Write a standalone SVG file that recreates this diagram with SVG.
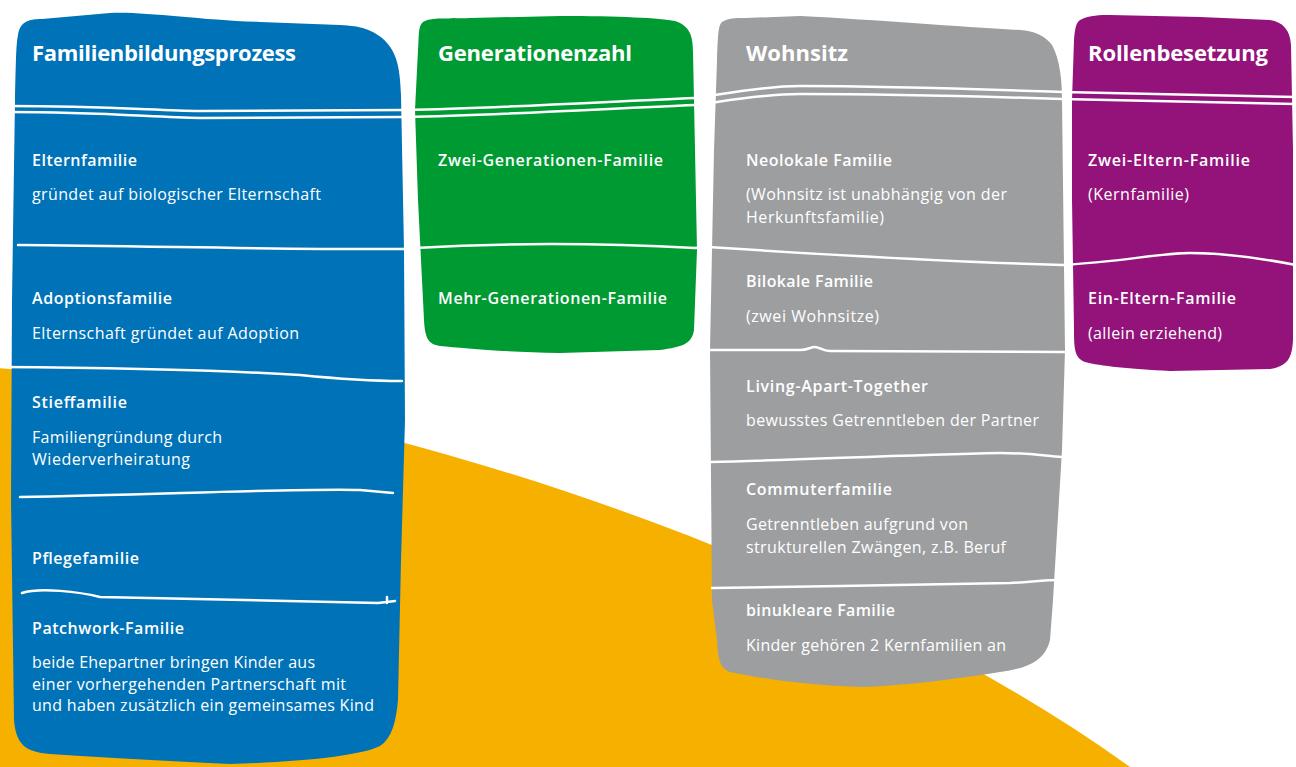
<svg xmlns="http://www.w3.org/2000/svg" width="1296" height="767" viewBox="0 0 1296 767">
<style>
.t{font-family:"Open Sans","Noto Sans","Liberation Sans",sans-serif;fill:#fff}
.h{font-size:22px;font-weight:700}
.b{font-size:16px;font-weight:600}
.r{font-size:16px;font-weight:400}
.ln{fill:none;stroke:#fff;stroke-width:2.5;stroke-linecap:round;stroke-linejoin:round}
</style>
<rect width="1296" height="767" fill="#fff"/>
<path id="yellow" d="M0,368 C350,400 820,545 1130,767 L0,767 Z" fill="#F6B000"/>

<g id="col-familienbildungsprozess">
<path d="M18,35 C20,22 28,19 42,19 L110,13 C140,11 200,20 260,22 L340,25 C362,26 372,30 382,38 C396,50 400,65 401,95 L404,250 L405,420 L401,560 L398,700 C396,722 392,738 380,746 C360,756 300,762 230,764 C160,761 100,757 50,754 C26,752 16,745 14,720 L11,500 L12,300 L15,100 C16,60 16,45 18,35 Z" fill="#0072B7"/>
<path class="ln" d="M8,106 C100,106 150,110 200,111 L404,110"/>
<path class="ln" d="M8,112 C100,112 150,117 200,118 L404,117"/>
<path class="ln" d="M18,245 C150,246 300,250 404,249"/>
<path class="ln" d="M0,367 C150,368 250,372 300,375 C350,380 380,381 402,381"/>
<path class="ln" d="M20,497 C150,495 300,488 360,490 L393,493"/>
<path class="ln" d="M22,593 C40,587 80,592 100,597 C200,600 300,602 378,603 L395,601 M387,603 L387,597"/>
<text class="t h" x="32" y="61" textLength="264">Familienbildungsprozess</text>
<text class="t b" x="32" y="166" textLength="105">Elternfamilie</text>
<text class="t r" x="32" y="200" textLength="289">gründet auf biologischer Elternschaft</text>
<text class="t b" x="32" y="304" textLength="140">Adoptionsfamilie</text>
<text class="t r" x="32" y="339" textLength="267">Elternschaft gründet auf Adoption</text>
<text class="t b" x="32" y="408" textLength="95">Stieffamilie</text>
<text class="t r" x="32" y="443" textLength="190">Familiengründung durch</text>
<text class="t r" x="32" y="465" textLength="158">Wiederverheiratung</text>
<text class="t b" x="32" y="564" textLength="107">Pflegefamilie</text>
<text class="t b" x="32" y="634" textLength="152">Patchwork-Familie</text>
<text class="t r" x="32" y="668" textLength="283">beide Ehepartner bringen Kinder aus</text>
<text class="t r" x="32" y="690" textLength="314">einer vorhergehenden Partnerschaft mit</text>
<text class="t r" x="32" y="711" textLength="342">und haben zusätzlich ein gemeinsames Kind</text>
</g>

<g id="col-generationenzahl">
<path d="M423,22 C430,17 450,19 470,18 L560,16 C620,16 660,18 675,21 C690,26 693,36 693,52 L695,150 L697,250 L694,330 C692,344 682,347 660,350 L560,353 C500,352 462,348 440,346 C428,344 425,338 424,320 L418,200 L415,110 L418,50 C419,35 418,26 423,22 Z" fill="#009A32"/>
<path class="ln" d="M404,110 C500,108 600,102 695,98"/>
<path class="ln" d="M404,117 C500,115 600,109 695,105"/>
<path class="ln" d="M404,249 L415,248 C500,243 600,243 695,248"/>
<text class="t h" x="438" y="61" textLength="194">Generationenzahl</text>
<text class="t b" x="438" y="166" textLength="225">Zwei-Generationen-Familie</text>
<text class="t b" x="438" y="304" textLength="229">Mehr-Generationen-Familie</text>
</g>

<g id="col-wohnsitz">
<path d="M722,22 C728,18 735,18 745,18 L800,16 C880,20 960,27 1020,30 C1035,31 1045,36 1052,45 C1060,60 1062,80 1062,100 L1065,350 L1062,450 L1053,600 L1050,640 C1045,660 1030,668 1000,672 C950,680 900,686 860,687 C800,685 760,678 730,672 C720,668 718,660 717,640 L712,600 L710,350 L714,150 L717,60 C718,35 718,26 722,22 Z" fill="#9D9EA0"/>
<path class="ln" d="M695,98 C720,95 760,86 800,86 C900,86 1000,90 1062,92"/>
<path class="ln" d="M695,105 C720,102 760,94 800,94 C900,94 1000,97 1062,99"/>
<path class="ln" d="M695,248 L708,247 C800,253 950,262 1062,265"/>
<path class="ln" d="M710,350 L800,350 C808,350 810,347 815,347 C820,347 822,351 830,351 L1065,352"/>
<path class="ln" d="M710,462 C800,460 900,455 1000,453 C1030,453 1045,456 1062,457"/>
<path class="ln" d="M712,588 C800,587 950,584 1010,583 C1030,582 1045,580 1060,580"/>
<text class="t h" x="746" y="61" textLength="102">Wohnsitz</text>
<text class="t b" x="746" y="166" textLength="146">Neolokale Familie</text>
<text class="t r" x="746" y="200" textLength="261">(Wohnsitz ist unabhängig von der</text>
<text class="t r" x="746" y="223" textLength="138">Herkunftsfamilie)</text>
<text class="t b" x="746" y="287" textLength="127">Bilokale Familie</text>
<text class="t r" x="746" y="322" textLength="133">(zwei Wohnsitze)</text>
<text class="t b" x="746" y="392" textLength="182">Living-Apart-Together</text>
<text class="t r" x="746" y="426" textLength="293">bewusstes Getrenntleben der Partner</text>
<text class="t b" x="746" y="495" textLength="146">Commuterfamilie</text>
<text class="t r" x="746" y="530" textLength="222">Getrenntleben aufgrund von</text>
<text class="t r" x="746" y="553" textLength="260">strukturellen Zwängen, z.B. Beruf</text>
<text class="t b" x="746" y="616" textLength="149">binukleare Familie</text>
<text class="t r" x="746" y="651" textLength="260">Kinder gehören 2 Kernfamilien an</text>
</g>

<g id="col-rollenbesetzung">
<path d="M1080,20 C1090,15 1100,15 1110,15 L1200,17 L1270,20 C1283,22 1290,30 1291,45 L1293,150 L1293,340 C1292,358 1288,366 1270,369 L1170,371 C1130,369 1100,366 1085,362 C1075,358 1074,350 1074,330 L1072,200 L1072,100 L1074,40 C1075,28 1076,23 1080,20 Z" fill="#93137B"/>
<path class="ln" d="M1062,92 L1296,97"/>
<path class="ln" d="M1062,99 L1296,104"/>
<path class="ln" d="M1062,265 C1120,262 1160,253 1190,253 C1230,253 1270,260 1296,265"/>
<text class="t h" x="1088" y="61" textLength="180">Rollenbesetzung</text>
<text class="t b" x="1088" y="166" textLength="162">Zwei-Eltern-Familie</text>
<text class="t r" x="1088" y="200" textLength="101">(Kernfamilie)</text>
<text class="t b" x="1088" y="304" textLength="148">Ein-Eltern-Familie</text>
<text class="t r" x="1088" y="339" textLength="134">(allein erziehend)</text>
</g>
</svg>
